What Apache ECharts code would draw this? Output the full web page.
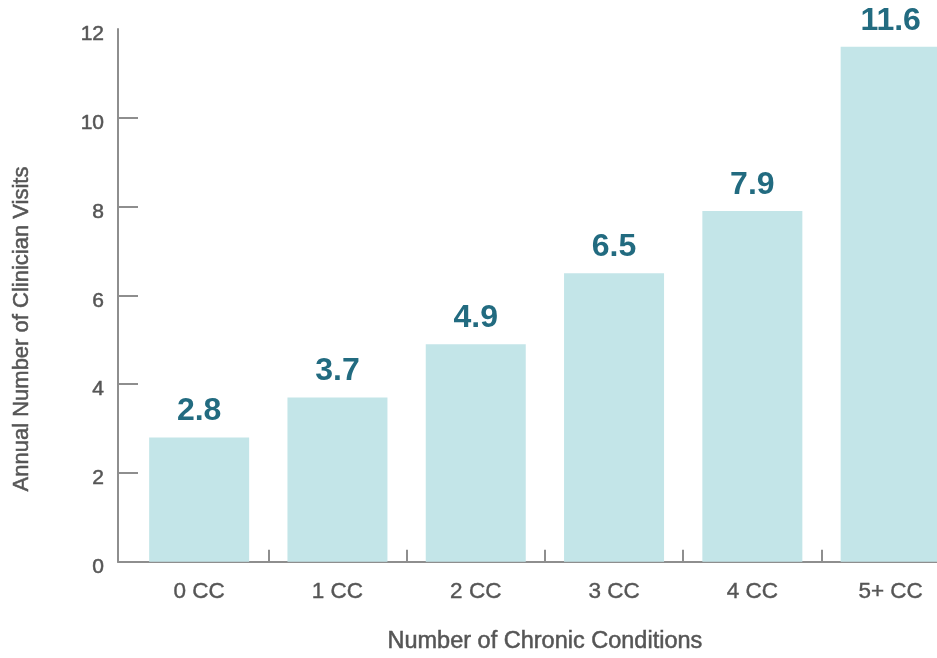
<!DOCTYPE html>
<html>
<head>
<meta charset="utf-8">
<script src="https://cdn.jsdelivr.net/npm/echarts@6/dist/echarts.min.js"></script>
<style>
html,body{margin:0;padding:0;background:#fff;}
#c{width:937px;height:658px;}
</style>
</head>
<body>
<div id="c"></div>
<script>
const categories = ['0 CC', '1 CC', '2 CC', '3 CC', '4 CC', '5+ CC'];
const visits = [2.8, 3.7, 4.9, 6.5, 7.9, 11.6];
const yTicks = [0, 2, 4, 6, 8, 10, 12];
const yTickMarks = [0, 2, 4, 6, 8, 10];
const xTitle = 'Number of Chronic Conditions';
const yTitle = 'Annual Number of Clinician Visits';

const FONT = '"Liberation Sans", Arial, sans-serif';
const TEXT = '#555555';
const AXIS = '#8e8e8e';

const chart = echarts.init(document.getElementById('c'), null, {renderer: 'canvas'});
chart.setOption({
  animation: false,
  backgroundColor: '#ffffff',
  grid: [
    {left: 118, width: 842, top: 29, bottom: 96.3, outerBoundsMode: 'none', containLabel: false},
    {left: 130, width: 829.8, top: 29, bottom: 96.3, outerBoundsMode: 'none', containLabel: false}
  ],
  xAxis: [
    {
      gridIndex: 0, type: 'value', min: 0, max: 1,
      axisLine: {show: true, lineStyle: {color: AXIS, width: 2}},
      axisTick: {show: false}, axisLabel: {show: false}, splitLine: {show: false}
    },
    {
      gridIndex: 1, type: 'category', data: categories,
      name: xTitle, nameLocation: 'middle', nameGap: 68,
      nameTextStyle: {fontFamily: FONT, fontSize: 23.5, color: TEXT,
                      textBorderColor: TEXT, textBorderWidth: 0.5},
      axisLine: {show: false},
      axisTick: {show: true, inside: true, length: 12, lineStyle: {color: AXIS, width: 2},
                 interval: function (i) { return i !== 0; }},
      axisLabel: {fontFamily: FONT, fontSize: 22.5, color: TEXT, margin: 19, interval: 0,
                  textBorderColor: TEXT, textBorderWidth: 0.4},
      splitLine: {show: false}
    }
  ],
  yAxis: [
    {
      gridIndex: 0, type: 'value', min: 0, max: 12, interval: 2,
      axisLine: {show: true, lineStyle: {color: AXIS, width: 2}},
      axisTick: {show: true, inside: true, length: 20, lineStyle: {color: AXIS, width: 2},
                 customValues: yTickMarks},
      axisLabel: {fontFamily: FONT, fontSize: 21, color: TEXT, margin: 14,
                  verticalAlign: 'top', lineHeight: 11,
                  textBorderColor: TEXT, textBorderWidth: 0.5,
                  customValues: yTicks},
      splitLine: {show: false}
    },
    {
      gridIndex: 1, type: 'value', min: 0, max: 12, interval: 2, show: false
    }
  ],
  graphic: [{
    type: 'text',
    x: 22, y: 329,
    rotation: Math.PI / 2,
    style: {
      text: yTitle, fontFamily: FONT, fontSize: 22, fill: TEXT,
      stroke: TEXT, lineWidth: 0.5,
      align: 'center', verticalAlign: 'middle'
    }
  }],
  series: [{
    type: 'bar',
    xAxisIndex: 1, yAxisIndex: 1,
    data: visits,
    barWidth: 100,
    itemStyle: {color: '#c3e5e8'},
    label: {
      show: true, position: 'top', distance: 10,
      fontFamily: FONT, fontWeight: 'bold', fontSize: 32, color: '#226b80'
    }
  }]
});
</script>
</body>
</html>
